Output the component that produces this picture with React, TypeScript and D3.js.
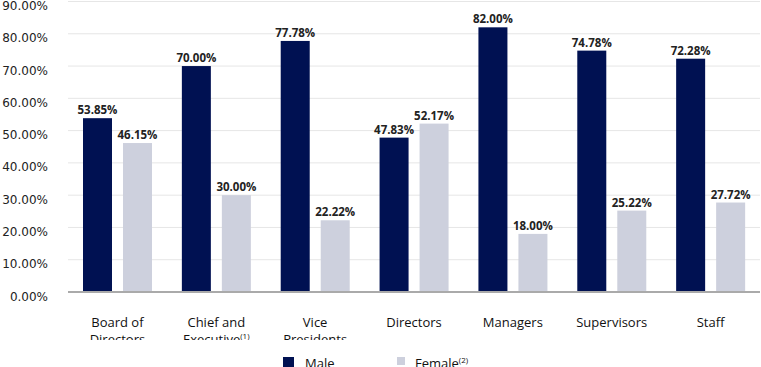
import * as d3 from 'd3';

// Workforce by level, percentage split male / female
const categories = ['Board of|Directors', 'Chief and|Executive', 'Vice|Presidents', 'Directors', 'Managers', 'Supervisors', 'Staff'];
const categorySup = ['', '(1)', '', '', '', '', ''];
const maleValues = [53.85, 70.0, 77.78, 47.83, 82.0, 74.78, 72.28];
const femaleValues = [46.15, 30.0, 22.22, 52.17, 18.0, 25.22, 27.72];
const yTicks = [0, 10, 20, 30, 40, 50, 60, 70, 80, 90];
const series = ['Male', 'Female'];

const W = 761;
const H = 367;
const PLOT = { left: 68, right: 760, top: 1.5, bottom: 292 };
const COLORS: Record<string, string> = { Male: '#001152', Female: '#cdd0dd' };
const FONT = '"Open Sans", sans-serif';

export default function App() {
  const x0 = d3.scaleBand<number>().domain(d3.range(categories.length)).range([PLOT.left, PLOT.right]);
  const y = d3.scaleLinear().domain([0, 90]).range([PLOT.bottom, PLOT.top]);
  const fmt = (v: number) => `${v.toFixed(2)}%`;

  const bars = categories.flatMap((_, i) => {
    const start = x0(i)! + 15;
    const x1 = d3.scaleBand<string>().domain(series).range([start, start + 69]).paddingInner(11 / 40);
    return [
      { key: 'Male', i, v: maleValues[i], x: x1('Male')!, w: x1.bandwidth() },
      { key: 'Female', i, v: femaleValues[i], x: x1('Female')!, w: x1.bandwidth() },
    ];
  });

  return (
    <svg width={W} height={H} style={{ position: 'absolute', left: 0, top: 0 }}>
      <defs>
        <clipPath id="catclip">
          <rect x={0} y={0} width={W} height={340} />
        </clipPath>
      </defs>
      {/* grid + y ticks */}
      {yTicks.map((t) => (
        <g key={t}>
          {t > 0 && (
            <line x1={PLOT.left} x2={PLOT.right} y1={y(t)} y2={y(t)} stroke="#e6e6e6" strokeWidth={1} />
          )}
          <text x={48} y={y(t) + 8.5} textAnchor="end" fontFamily='"DejaVu Sans", sans-serif' fontSize={12} fill="#222">
            {fmt(t)}
          </text>
        </g>
      ))}
      {/* bars */}
      {bars.map((b) => (
        <g key={`${b.key}-${b.i}`}>
          <rect x={b.x} y={y(b.v)} width={b.w} height={y(0) - y(b.v)} fill={COLORS[b.key]} />
          <text
            x={b.x + b.w / 2}
            y={y(b.v) - 4}
            textAnchor="middle"
            fontFamily={FONT}
            fontWeight={700}
            fontSize={11.5}
            fill="#222"
          >
            {fmt(b.v)}
          </text>
        </g>
      ))}
      <line x1={PLOT.left} x2={PLOT.right} y1={y(0)} y2={y(0)} stroke="#aaaaaa" strokeWidth={2} />
      {/* category labels */}
      <g clipPath="url(#catclip)">
        {categories.map((c, i) => {
          const lines = c.split('|');
          const cx = x0(i)! + x0.bandwidth() / 2;
          return (
            <text key={c} x={cx} textAnchor="middle" fontFamily={FONT} fontSize={13} fill="#111">
              {lines.map((l, k) => (
                <tspan key={k} x={cx} y={327 + k * 17}>
                  {l}
                  {k === lines.length - 1 && categorySup[i] && (
                    <tspan fontSize={8} dy={-5}>
                      {categorySup[i]}
                    </tspan>
                  )}
                </tspan>
              ))}
            </text>
          );
        })}
      </g>
      {/* legend */}
      <rect x={283} y={357} width={11} height={11} fill={COLORS.Male} />
      <text x={305} y={368} fontFamily={FONT} fontSize={13} fill="#111">
        Male
      </text>
      <rect x={397} y={357} width={8} height={8} fill={COLORS.Female} />
      <text x={415} y={368} fontFamily={FONT} fontSize={13} fill="#111">
        Female
        <tspan fontSize={8} dy={-5}>
          (2)
        </tspan>
      </text>
    </svg>
  );
}
